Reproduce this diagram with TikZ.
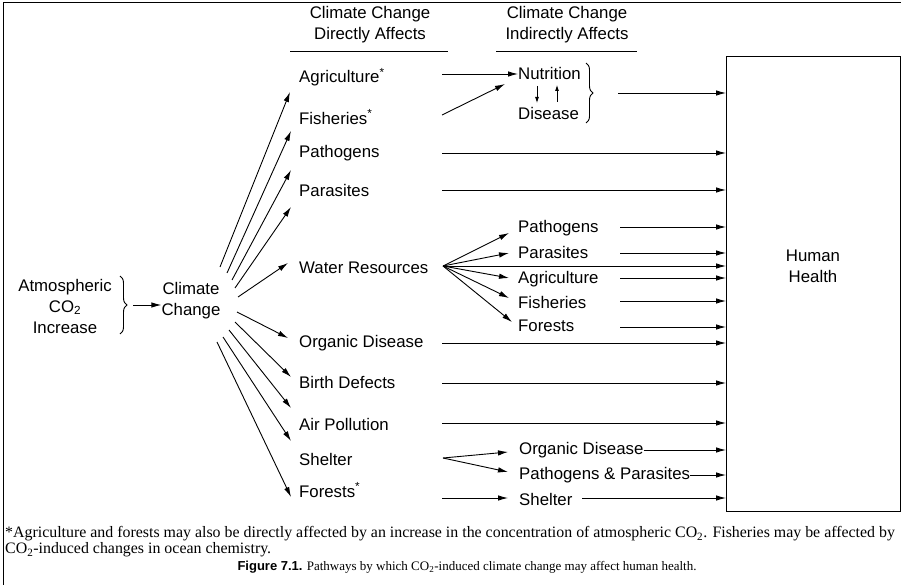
\documentclass[tikz,border=0pt]{standalone}
\usepackage{fontspec}
\setmainfont{Liberation Serif}
\setsansfont{Liberation Sans}
\usetikzlibrary{arrows.meta,decorations.pathreplacing}

\begin{document}
\begin{tikzpicture}[x=1pt,y=-1pt,
  lab/.style={font=\sffamily\fontsize{16.8}{21}\selectfont, anchor=west, inner sep=0pt},
  head/.style={font=\sffamily\fontsize{16.8}{21}\selectfont, align=center, inner sep=0pt},
  arr/.style={-{Latex[length=10pt,width=5.5pt]}, line width=0.9pt},
  small/.style={-{Latex[length=6pt,width=4pt]}, line width=0.8pt},
  ln/.style={line width=0.9pt},
  curly/.style={decorate, decoration={brace, amplitude=7pt}, line width=0.9pt},
  note/.style={font=\fontsize{15.9}{16}\selectfont, anchor=west, inner sep=0pt}]
\useasboundingbox (0,0) rectangle (901,585);

% frame and target box
\draw[ln] (3,585) -- (3,2) -- (901,2);
\node[draw, line width=1pt, minimum width=174pt, minimum height=455pt, anchor=north west, inner sep=0pt] (hh) at (726,56) {};
\node[head] (hhtext) at (813,266) {Human\\Health};

% column headings
\node[head] (hdA) at (370,25) {Climate Change\\Directly Affects};
\node[head] (hdB) at (567,25) {Climate Change\\Indirectly Affects};
\draw[ln] (290,51) -- (448,51);
\draw[ln] (496,51) -- (637,51);

% source
\node[head] (co2) at (65,306) {Atmospheric\\CO\textsubscript{2}\\Increase};
\draw[curly] (120,276) -- (120,334);
\node[head] (cc) at (191,301) {Climate\\Change};
\coordinate (co2out) at (133,305);
\draw[arr] (co2out) -- (cc.west |- co2out);

% direct effects
\node[lab] (agr) at (299,77) {Agriculture\textsuperscript{*}};
\node[lab] (fis) at (299,117) {Fisheries\textsuperscript{*}};
\node[lab] (pat) at (299,153) {Pathogens};
\node[lab] (par) at (299,190) {Parasites};
\node[lab] (wat) at (299,268) {Water Resources};
\node[lab] (org) at (299,343) {Organic Disease};
\node[lab] (bir) at (299,382) {Birth Defects};
\node[lab] (air) at (299,424) {Air Pollution};
\node[lab] (she) at (299,459) {Shelter};
\node[lab] (for) at (299,490) {Forests\textsuperscript{*}};

% fan from climate change
\foreach \tx/\ty/\hx/\hy in {220/267/290/92, 227/273/291/131, 232/280/291/170, 235/288/291/207,
    238/297/288/263, 237/312/288/338, 235/322/291/377, 229/330/291/408, 223/337/291/441, 217/342/291/497}
  \draw[arr] (\tx,\ty) -- (\hx,\hy);

% nutrition and disease
\node[lab] (nut) at (518,73) {Nutrition};
\node[lab] (dis) at (518,113) {Disease};
\coordinate (agrout) at (442,74);
\coordinate (fisout) at (442,115);
\draw[arr] (agrout) -- (nut.west |- agrout);
\draw[arr] (fisout) -- (505,84);
\draw[small] (537,86) -- (537,103);
\draw[small] (557,102) -- (557,85);
\draw[curly] (586,63) -- (586,123);
\coordinate (nutout) at (618,93);
\draw[arr] (nutout) -- (nutout -| hh.west);

% direct rows straight to human health
\foreach \n/\y in {p1/153, p2/190, p3/343, p4/383, p5/423}{
  \coordinate (\n) at (442,\y);
  \draw[arr] (\n) -- (\n -| hh.west);
}

% water resources branch
\coordinate (wfan) at (443,266);
\draw[arr] (wfan) -- (wfan -| hh.west);
\node[lab] (wpat) at (518,228) {Pathogens};
\node[lab] (wpar) at (518,252) {Parasites};
\node[lab] (wagr) at (518,279) {Agriculture};
\node[lab] (wfis) at (518,302) {Fisheries};
\node[lab] (wfor) at (518,326) {Forests};
\foreach \hx/\hy in {509/233, 509/253, 509/278, 509/298, 512/322}
  \draw[arr] (wfan) -- (\hx,\hy);
\foreach \n/\y in {q1/227, q2/253, q3/278, q4/301, q5/327}{
  \coordinate (\n) at (620,\y);
  \draw[arr] (\n) -- (\n -| hh.west);
}

% shelter branch
\coordinate (sfan) at (443,458);
\node[lab] (sorg) at (519,450) {Organic Disease};
\node[lab] (spp) at (519,475) {Pathogens \& Parasites};
\draw[arr] (sfan) -- (508,452);
\draw[arr] (sfan) -- (508,472);
\draw[arr] (sorg.east) -- (sorg.east -| hh.west);
\draw[arr] (spp.east) -- (spp.east -| hh.west);

% forests branch
\coordinate (fout) at (442,498);
\node[lab] (fshe) at (519,499) {Shelter};
\draw[arr] (fout) -- (508,498);
\coordinate (fsout) at (582,498);
\draw[arr] (fsout) -- (fsout -| hh.west);

% footnote and caption
\node[note] (fn1) at (5,534) {*Agriculture and forests may also be directly affected by an increase in the concentration of atmospheric CO\textsubscript{2}. Fisheries may be affected by};
\node[note] (fn2) at (5,550) {CO\textsubscript{2}-induced changes in ocean chemistry.};
\node[font=\fontsize{13}{16}\selectfont, inner sep=0pt] (cap) at (467,567) {\textsf{\bfseries Figure 7.1.} Pathways by which CO\textsubscript{2}-induced climate change may affect human health.};
\end{tikzpicture}
\end{document}
